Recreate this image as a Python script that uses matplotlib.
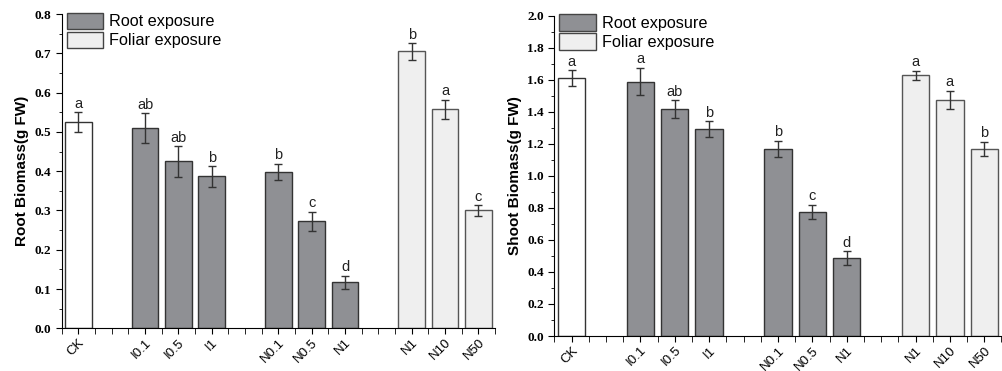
import matplotlib
matplotlib.use("Agg")
import matplotlib.pyplot as plt
from matplotlib.patches import Patch
from matplotlib.ticker import MultipleLocator

categories = ["CK", "I0.1", "I0.5", "I1", "N0.1", "N0.5", "N1", "N1", "N10", "N50"]
groups = ["control", "root", "root", "root", "root", "root", "root", "foliar", "foliar", "foliar"]
positions = [1, 3, 4, 5, 7, 8, 9, 11, 12, 13]

root_biomass = [0.525, 0.510, 0.425, 0.387, 0.398, 0.272, 0.117, 0.705, 0.558, 0.300]
root_err = [0.025, 0.037, 0.039, 0.026, 0.021, 0.025, 0.017, 0.021, 0.024, 0.013]
root_letters = ["a", "ab", "ab", "b", "b", "c", "d", "b", "a", "c"]

shoot_biomass = [1.610, 1.588, 1.418, 1.292, 1.170, 0.775, 0.485, 1.628, 1.475, 1.168]
shoot_err = [0.048, 0.085, 0.055, 0.050, 0.050, 0.046, 0.044, 0.027, 0.058, 0.043]
shoot_letters = ["a", "a", "ab", "b", "b", "c", "d", "a", "a", "b"]

colors = {"control": "#ffffff", "root": "#8f9094", "foliar": "#efefef"}
edges = {"control": "#333333", "root": "#333333", "foliar": "#555555"}

fig = plt.figure(figsize=(10.02, 3.71), dpi=100)
ax1 = fig.add_axes([0.0616, 0.115, 0.4325, 0.847])
ax2 = fig.add_axes([0.5532, 0.0943, 0.4463, 0.8633])

def draw(ax, vals, errs, letters, ymax, major, ylabel, pad):
    fc = [colors[g] for g in groups]
    ec = [edges[g] for g in groups]
    ax.bar(positions, vals, width=0.8, color=fc, edgecolor=ec, linewidth=1.0, zorder=2)
    ax.errorbar(positions, vals, yerr=errs, fmt="none", ecolor="#333333",
                elinewidth=1.0, capsize=3, capthick=1.0, zorder=3)
    for x, v, e, t in zip(positions, vals, errs, letters):
        ax.text(x, v + e + pad, t, ha="center", va="bottom", fontsize=10.5,
                family="Liberation Sans", color="#222222")
    ax.set_xlim(0.5, 13.5)
    ax.set_ylim(0, ymax)
    ax.yaxis.set_major_locator(MultipleLocator(major))
    ax.yaxis.set_minor_locator(MultipleLocator(major / 2))
    ax.set_xticks(positions)
    ax.set_xticks([p / 2 for p in range(1, 28)], minor=True)
    ax.set_xticklabels(categories, rotation=45, ha="right", rotation_mode="anchor",
                       fontsize=9.5, family="Liberation Sans")
    ax.tick_params(axis="x", which="both", length=4, direction="out", pad=2)
    ax.tick_params(axis="y", which="major", length=4, direction="out")
    ax.tick_params(axis="y", which="minor", length=2.5, direction="out")
    for lab in ax.get_yticklabels():
        lab.set_family("Liberation Serif")
        lab.set_fontweight("bold")
        lab.set_fontsize(9.5)
    ax.spines["top"].set_visible(False)
    ax.spines["right"].set_visible(False)
    ax.set_ylabel(ylabel, fontsize=11, fontweight="bold", family="Liberation Sans", labelpad=4)
    handles = [Patch(facecolor=colors["root"], edgecolor="#444444", label="Root exposure"),
               Patch(facecolor=colors["foliar"], edgecolor="#444444", label="Foliar exposure")]
    ax.legend(handles=handles, loc="upper left", bbox_to_anchor=(0.0, 1.02), frameon=False,
              prop={"family": "Liberation Sans", "size": 11.7}, handlelength=2.27,
              handleheight=1.17, handletextpad=0.37, labelspacing=0.15, borderaxespad=0.1,
              borderpad=0.2)

draw(ax1, root_biomass, root_err, root_letters, 0.8, 0.1, "Root Biomass(g FW)", 0.004)
draw(ax2, shoot_biomass, shoot_err, shoot_letters, 2.0, 0.2, "Shoot Biomass(g FW)", 0.01)

fig.savefig("out.png", dpi=100)
